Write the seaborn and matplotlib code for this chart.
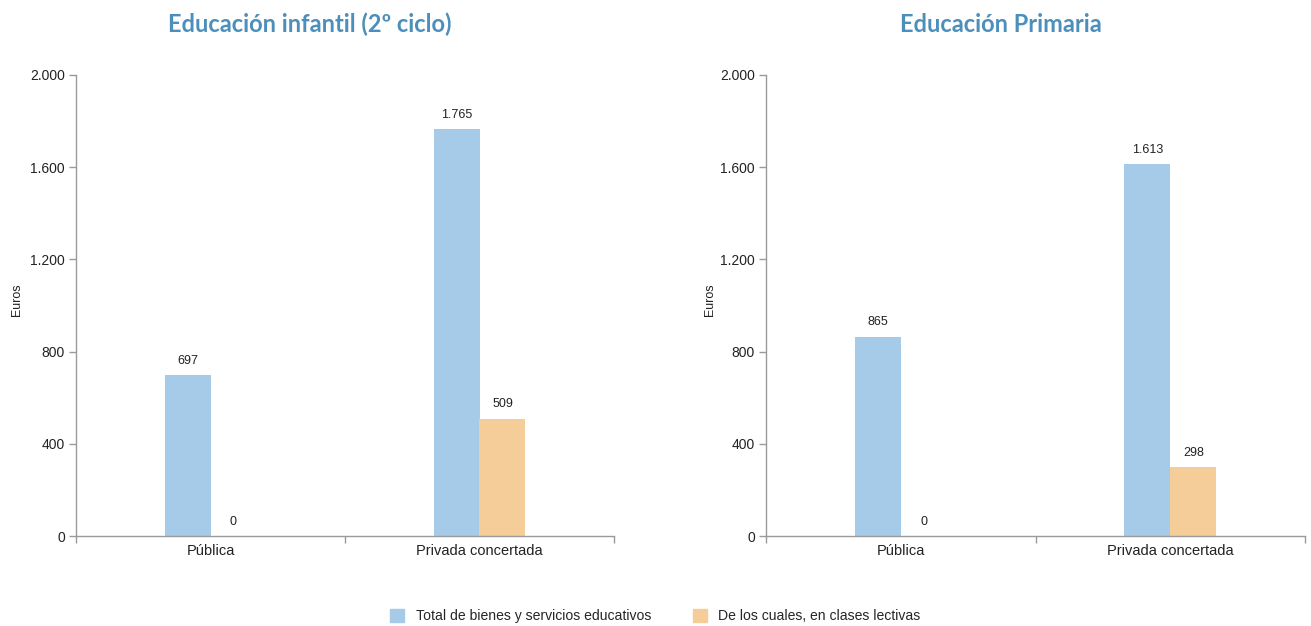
import matplotlib
matplotlib.use("Agg")
import matplotlib.pyplot as plt
import matplotlib.patches as mpatches
import seaborn as sns
import pandas as pd

# ---- data ----
titles = ["Educación infantil (2º ciclo)", "Educación Primaria"]
categories = ["Pública", "Privada concertada"]
series_names = ["Total de bienes y servicios educativos", "De los cuales, en clases lectivas"]
infantil_total = [697, 1765]
infantil_lectivas = [0, 509]
primaria_total = [865, 1613]
primaria_lectivas = [0, 298]
y_ticks = [0, 400, 800, 1200, 1600, 2000]

colors = ["#a6cbe8", "#f4cd98"]
title_color = "#4b8fba"
axis_color = "#9a9a9a"
text_color = "#222222"

sns.set_theme(style="white")
plt.rcParams["font.family"] = ["Liberation Sans", "DejaVu Sans"]

W, H = 1311, 626

def fmt(v):
    return f"{int(v):,}".replace(",", ".")

def make_df(total, lectivas):
    rows = []
    for c, t, l in zip(categories, total, lectivas):
        rows.append({"cat": c, "serie": series_names[0], "val": t})
        rows.append({"cat": c, "serie": series_names[1], "val": l})
    return pd.DataFrame(rows)

fig = plt.figure(figsize=(W / 100, H / 100), dpi=100)
ax_px = [(76, 614), (766, 1305)]
ylabel_x = [23, 716]
title_x = [310, 1001]
datasets = [(infantil_total, infantil_lectivas), (primaria_total, primaria_lectivas)]

for i in range(2):
    x0, x1 = ax_px[i]
    ax = fig.add_axes([x0 / W, 1 - 536 / H, (x1 - x0) / W, (536 - 75) / H])
    df = make_df(*datasets[i])
    sns.barplot(data=df, x="cat", y="val", hue="serie", order=categories,
                hue_order=series_names, palette=colors, width=0.342,
                saturation=1, ax=ax, legend=False, errorbar=None, linewidth=0)
    for cont in ax.containers:
        ax.bar_label(cont, labels=[fmt(b.get_height()) for b in cont],
                     padding=6, fontsize=9, color=text_color)
    ax.set_xlim(-0.5, 1.5)
    ax.set_ylim(0, 2000)
    ax.set_yticks(y_ticks)
    ax.set_yticklabels([fmt(v) for v in y_ticks], fontsize=10, color=text_color)
    ax.set_xticks([0, 1])
    ax.set_xticklabels(categories, fontsize=10.5, color=text_color)
    ax.set_xticks([-0.5, 0.5, 1.5], minor=True)
    ax.tick_params(axis="x", which="major", length=0, pad=6)
    ax.tick_params(axis="x", which="minor", length=5, color=axis_color, direction="out", width=1)
    ax.tick_params(axis="y", which="major", length=5, color=axis_color, direction="out", width=1, pad=3)
    ax.tick_params(left=True, bottom=True, which="both")
    ax.set_xlabel("")
    ax.set_ylabel("Euros", fontsize=9, color=text_color)
    ax.yaxis.set_label_coords((ylabel_x[i] - x0) / (x1 - x0), (536 - 300) / (536 - 75))
    for s in ["top", "right"]:
        ax.spines[s].set_visible(False)
    for s in ["left", "bottom"]:
        ax.spines[s].set_color(axis_color)
        ax.spines[s].set_linewidth(1)
    fig.text(title_x[i] / W, 1 - 24 / H, titles[i], ha="center", va="center",
             fontsize=17, fontweight="bold", color=title_color,
             family=["Lato", "DejaVu Sans"])

handles = [mpatches.Patch(color=c, label=n) for c, n in zip(colors, series_names)]
fig.legend(handles=handles, loc="center", bbox_to_anchor=(0.5, 1 - 616 / H), ncol=2,
           frameon=False, fontsize=10.1, handlelength=1.0, handleheight=1.0,
           columnspacing=3.0, handletextpad=0.8)

fig.savefig("out.png", dpi=100)
